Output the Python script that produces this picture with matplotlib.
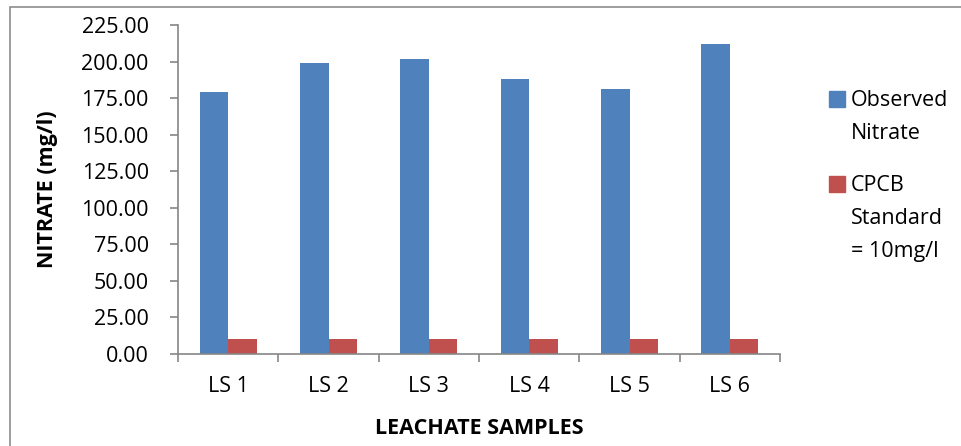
import matplotlib
matplotlib.use("Agg")
import matplotlib.pyplot as plt
import numpy as np
from matplotlib.patches import Rectangle

samples = ["LS 1", "LS 2", "LS 3", "LS 4", "LS 5", "LS 6"]
observed = [179, 199, 202, 188, 181, 212]
cpcb = [10, 10, 10, 10, 10, 10]
yticks = [0, 25, 50, 75, 100, 125, 150, 175, 200, 225]
series_names = ['Observed\nNitrate', 'CPCB\nStandard\n= 10mg/l']
colors = ['#4F81BD', '#C0504D']

plt.rcParams['font.family'] = ['Open Sans', 'DejaVu Sans']
W, H = 961, 446
fs = 15.5
fig = plt.figure(figsize=(W / 100, H / 100), dpi=100)
ax = fig.add_axes([178 / W, 1 - 353.5 / H, 602 / W, 328.2 / H])

# outer chart border (only left/top visible in the crop)
fig.patches.append(Rectangle((10 / W, -0.1), 1.2, 1 - 7 / H + 0.1,
                             transform=fig.transFigure, fill=False,
                             edgecolor='#8c8c8c', linewidth=1.2))

x = np.arange(len(samples))
bw = 0.284
ax.bar(x - bw / 2, observed, bw, color=colors[0])
ax.bar(x + bw / 2, cpcb, bw, color=colors[1])

ax.set_xlim(-0.5, 5.5)
ax.set_ylim(0, 225)
ax.set_yticks(yticks)
ax.set_yticklabels(['%.2f' % v for v in yticks], fontsize=fs)
ax.set_xticks(x)
ax.set_xticklabels(samples, fontsize=fs)
ax.set_xticks(np.arange(-0.5, 6, 1), minor=True)
ax.tick_params(axis='x', which='major', length=0, pad=16)
ax.tick_params(axis='x', which='minor', length=6, color='#868686', width=1.2)
ax.tick_params(axis='y', length=6, color='#868686', width=1.2, pad=15)

for s in ['top', 'right']:
    ax.spines[s].set_visible(False)
for s in ['left', 'bottom']:
    ax.spines[s].set_color('#868686')
    ax.spines[s].set_linewidth(1.2)

ax.set_ylabel('NITRATE (mg/l)', fontsize=fs, fontweight='bold', labelpad=17)
ax.set_xlabel('LEACHATE SAMPLES', fontsize=fs, fontweight='bold', labelpad=15)

# legend: square aligned with first line of each wrapped entry
leg_top = [99, 183.5]
for name, c, yc in zip(series_names, colors, leg_top):
    fig.patches.append(Rectangle((829 / W, 1 - (yc + 8) / H), 16 / W, 16 / H,
                                 transform=fig.transFigure, color=c))
    fig.text(851 / W, 1 - (yc - 9) / H, name, fontsize=fs, va='top',
             ha='left', linespacing=1.78)

fig.savefig('out.png', dpi=100)
